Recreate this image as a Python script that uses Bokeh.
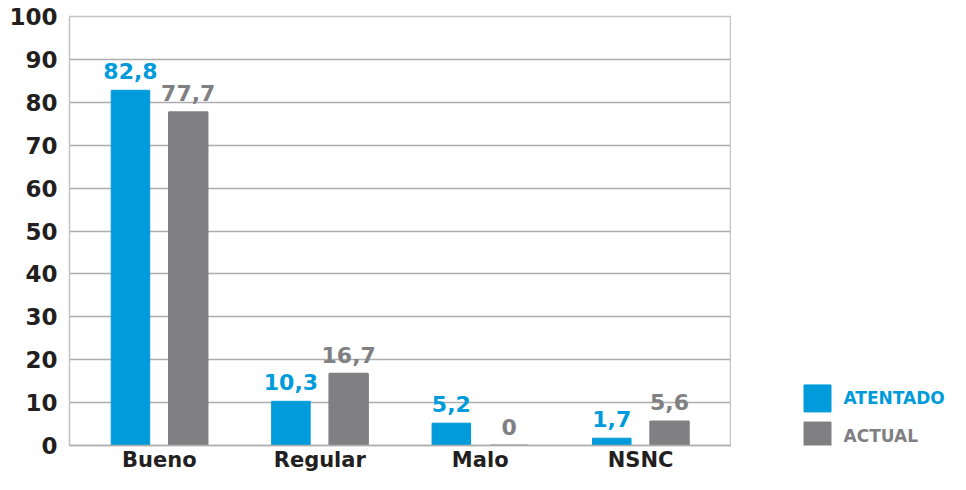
from bokeh.plotting import figure
from bokeh.models import ColumnDataSource, FactorRange, Range1d, SingleIntervalTicker
from bokeh.layouts import row
from bokeh.transform import dodge
from bokeh.core.properties import value
from bokeh.embed import file_html
from bokeh.resources import INLINE

categories = ["Bueno", "Regular", "Malo", "NSNC"]
atentado = [82.8, 10.3, 5.2, 1.7]
actual = [77.7, 16.7, 0, 5.6]
series_names = ["ATENTADO", "ACTUAL"]

BLUE = "#009BDA"
GRAY = "#808083"
GRID = "#ADADAF"
TXT = "#231F20"
FONT = "DejaVu Sans"


def fmt(v):
    return ("%g" % v).replace(".", ",")


src = ColumnDataSource(dict(
    cat=categories,
    a=atentado,
    b=actual,
    alab=[fmt(v) for v in atentado],
    blab=[fmt(v) for v in actual],
))

H = 474
p = figure(width=731, height=H, x_range=FactorRange(factors=categories, range_padding=0.03),
           y_range=Range1d(0, 100), output_backend="svg", toolbar_location=None,
           min_border_left=69, min_border_right=1, min_border_top=16, min_border_bottom=25)

p.outline_line_color = "#C4C4C6"
p.outline_line_width = 1.5
p.xgrid.grid_line_color = None
p.ygrid.grid_line_color = GRID
p.ygrid.grid_line_width = 1.5
p.yaxis.ticker = SingleIntervalTicker(interval=10)

for ax in (p.xaxis, p.yaxis):
    ax.axis_line_color = None
    ax.major_tick_line_color = None
    ax.minor_tick_line_color = None
    ax.major_tick_out = 0
    ax.major_tick_in = 0
    ax.major_label_text_font = FONT
    ax.major_label_text_font_style = "bold"
    ax.major_label_text_font_size = "23px"
    ax.major_label_text_color = TXT
p.xaxis.major_label_text_font_size = "21px"
p.xaxis.axis_line_color = GRID
p.xaxis.axis_line_width = 1.5
p.yaxis.major_label_standoff = 8
p.xaxis.major_label_standoff = 2

w = 0.24
p.vbar(x=dodge("cat", -0.18, range=p.x_range), top="a", width=w, source=src,
       fill_color=BLUE, line_color=BLUE)
p.vbar(x=dodge("cat", 0.18, range=p.x_range), top="b", width=w, source=src,
       fill_color=GRAY, line_color=GRAY, line_width=2)

p.text(x=dodge("cat", -0.18, range=p.x_range), y="a", text="alab", source=src,
       text_align="center", text_baseline="bottom", y_offset=-11,
       text_font=value(FONT), text_font_style="bold", text_font_size="22px", text_color=BLUE)
p.text(x=dodge("cat", 0.18, range=p.x_range), y="b", text="blab", source=src,
       text_align="center", text_baseline="bottom", y_offset=-11,
       text_font=value(FONT), text_font_style="bold", text_font_size="22px", text_color=GRAY)

# legend panel (pixel-like coordinates, y measured from top)
LW = 950 - 731
lg = figure(width=LW, height=H, x_range=Range1d(0, LW), y_range=Range1d(H, 0),
            output_backend="svg", toolbar_location=None,
            min_border=0, outline_line_color=None)
lg.axis.visible = False
lg.grid.visible = False
leg_src = ColumnDataSource(dict(
    x=[86, 86], y=[422, 463], lx=[112, 112], name=series_names, col=[BLUE, GRAY]))
lg.rect(x="x", y="y", width=27, height=27, width_units="screen", height_units="screen",
        fill_color="col", line_color="col", source=leg_src)
lg.text(x="lx", y="y", text="name", text_color="col", source=leg_src,
        text_align="left", text_baseline="middle",
        text_font=value(FONT), text_font_style="bold", text_font_size="17px")

layout = row(p, lg, spacing=0)
open("out.html", "w").write(file_html(layout, INLINE))
